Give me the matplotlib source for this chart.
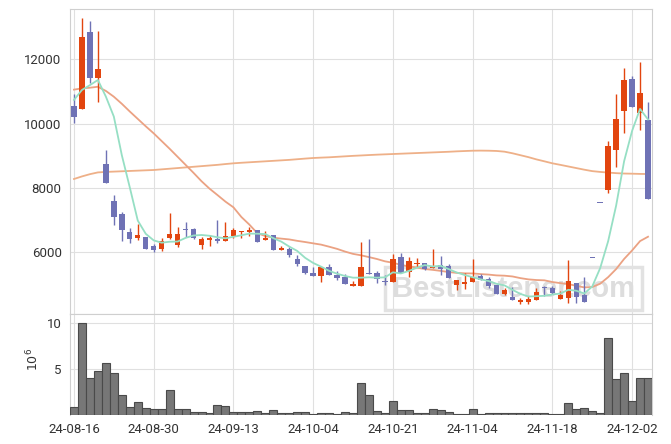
import matplotlib
matplotlib.use('Agg')
import matplotlib.pyplot as plt
import numpy as np

plt.rcParams['font.family'] = ['Roboto', 'DejaVu Sans']

# daily candles, 24-08-16 .. 24-12-04 (trading days)
opens = [10540, 10470, 12850, 11430, 8750, 7600, 7190, 6630, 6450, 6480,
         6200, 6110, 6450, 6230, 6700, 6720, 6240, 6390, 6400, 6360,
         6510, 6630, 6640, 6690, 6390, 6540, 6060, 6090, 5800, 5570,
         5360, 5270, 5540, 5300, 5230, 4940, 4940, 5370, 5360, 5120,
         5090, 5850, 5400, 5630, 5660, 5520, 5600, 5570, 4980, 5020,
         5060, 5260, 5160, 4970, 4710, 4610, 4450, 4450, 4530, 4900,
         4880, 4540, 4590, 5040, 4660, 5810, 7530, 7950, 9190, 10400,
         11390, 10340, 10120]
highs = [10910, 13280, 13200, 12880, 9170, 7780, 7250, 6770, 6890, 6480,
         6270, 6450, 7210, 6780, 6930, 6760, 6480, 6550, 7000, 6930,
         6760, 6670, 6780, 6700, 6660, 6540, 6200, 6160, 5910, 5580,
         5550, 5545, 5630, 5410, 5330, 5110, 6310, 6410, 5410, 5280,
         5940, 5970, 5850, 5810, 5670, 6090, 5890, 5650, 5140, 5350,
         5780, 5320, 5220, 5010, 4900, 4920, 4590, 4640, 4880, 4940,
         4940, 4810, 5750, 5050, 5220, 5810, 7530, 9470, 10910, 11720,
         11480, 11910, 10670]
lows = [10010, 10450, 11280, 10670, 8150, 6840, 6360, 6300, 6380, 6110,
        6000, 6030, 6410, 6170, 6490, 6410, 6110, 6200, 6280, 6360,
        6430, 6430, 6520, 6330, 6390, 6060, 6060, 5850, 5560, 5320,
        5270, 5090, 5280, 5130, 5010, 4940, 4940, 5320, 5040, 4980,
        5090, 5360, 5240, 5530, 5450, 5520, 5280, 5210, 4830, 4870,
        5060, 5140, 4890, 4710, 4660, 4530, 4380, 4390, 4500, 4630,
        4700, 4540, 4410, 4420, 4460, 5810, 7530, 7840, 8640, 9700,
        10530, 9790, 7670]
closes = [10220, 12700, 11430, 11700, 8170, 7110, 6700, 6420, 6540, 6110,
          6080, 6340, 6570, 6570, 6680, 6450, 6420, 6450, 6340, 6510,
          6690, 6660, 6700, 6330, 6450, 6060, 6120, 5930, 5650, 5370,
          5270, 5540, 5280, 5210, 5010, 5010, 5540, 5330, 5160, 5060,
          5790, 5370, 5720, 5660, 5470, 5570, 5470, 5210, 5140, 5080,
          5220, 5140, 4950, 4710, 4830, 4530, 4500, 4550, 4760, 4880,
          4720, 4660, 5120, 4620, 4460, 5810, 7530, 9310, 10150, 11360,
          10530, 10950, 7670]
# volume in millions
volume = [0.85, 10.0, 4.05, 4.8, 5.7, 4.56, 2.15, 0.85, 1.4, 0.74,
          0.63, 0.63, 2.7, 0.63, 0.63, 0.3, 0.3, 0.2, 1.07, 0.96,
          0.3, 0.3, 0.3, 0.42, 0.2, 0.52, 0.2, 0.2, 0.3, 0.3,
          0.08, 0.2, 0.2, 0.08, 0.3, 0.2, 3.48, 2.17, 0.42, 0.2,
          1.52, 0.52, 0.52, 0.2, 0.2, 0.63, 0.52, 0.3, 0.08, 0.08,
          0.63, 0.08, 0.2, 0.2, 0.2, 0.2, 0.2, 0.2, 0.2, 0.2,
          0.08, 0.08, 1.3, 0.63, 0.74, 0.42, 0.2, 8.4, 3.9, 4.55,
          1.5, 4.0, 4.0]
# moving averages as drawn on the chart
ma5 = [10740, 11050, 11200, 11360, 10844, 10222, 9022, 8020, 6988, 6576,
       6370, 6298, 6328, 6334, 6448, 6522, 6538, 6514, 6468, 6434,
       6482, 6530, 6580, 6578, 6566, 6440, 6332, 6178, 6042, 5826,
       5668, 5552, 5422, 5334, 5262, 5210, 5210, 5222, 5210, 5220,
       5376, 5342, 5420, 5520, 5602, 5558, 5578, 5476, 5372, 5294,
       5224, 5158, 5106, 5020, 4970, 4832, 4704, 4624, 4634, 4646,
       4686, 4718, 4832, 4804, 4718, 4934, 5508, 6346, 7452, 8832,
       9776, 10460, 10132]
ma20 = [11060, 11100, 11120, 11150, 11020, 10840, 10620, 10380, 10150, 9920,
        9700, 9460, 9220, 8970, 8720, 8470, 8210, 7980, 7780, 7576,
        7399, 7097, 6861, 6592, 6506, 6454, 6425, 6400, 6356, 6319,
        6278, 6238, 6174, 6106, 6022, 5950, 5906, 5850, 5791, 5719,
        5674, 5609, 5560, 5527, 5478, 5453, 5421, 5385, 5359, 5345,
        5342, 5322, 5306, 5281, 5272, 5248, 5196, 5157, 5137, 5128,
        5075, 5040, 5010, 4958, 4907, 4919, 5022, 5227, 5478, 5792,
        6057, 6348, 6484]
ma_long = [8280, 8360, 8430, 8485, 8500, 8510, 8520, 8530, 8540, 8550,
           8560, 8580, 8600, 8620, 8640, 8660, 8680, 8700, 8720, 8745,
           8768, 8785, 8800, 8815, 8830, 8845, 8860, 8875, 8895, 8915,
           8933, 8945, 8955, 8970, 8985, 9000, 9012, 9025, 9037, 9047,
           9057, 9067, 9077, 9087, 9097, 9107, 9117, 9127, 9140, 9150,
           9160, 9163, 9160, 9152, 9130, 9080, 9020, 8960, 8890, 8830,
           8768, 8720, 8670, 8620, 8570, 8525, 8500, 8480, 8462, 8450,
           8445, 8438, 8435]
tick_labels = ['24-08-16', '24-08-30', '24-09-13', '24-10-04',
               '24-10-21', '24-11-04', '24-11-18', '24-12-02']

RED = '#e2450f'
BLUE = '#6f72b5'
GRID = '#e0e0e0'
SPINE = '#cfcfcf'

o = np.array(opens)
h = np.array(highs)
l = np.array(lows)
c = np.array(closes)
x = np.arange(len(o))
colors = np.where(c > o, RED, BLUE)

fig = plt.figure(figsize=(6.71, 4.44), dpi=100)
ax = fig.add_axes([0.1043, 0.2928, 0.8674, 0.6863])
axv = fig.add_axes([0.1043, 0.0653, 0.8674, 0.2275], sharex=ax)

# watermark
ax.text(0.762, 0.083, 'BestListener.com', transform=ax.transAxes,
        family=['Liberation Sans', 'DejaVu Sans'], fontweight='bold', fontsize=21,
        color='#dddddd', ha='center', va='center', zorder=1,
        bbox=dict(boxstyle='square,pad=0.25', fc='none', ec='#e2e2e2', lw=2.5))

# candles
ax.vlines(x, l, h, colors=colors, lw=1, zorder=3)
ax.bar(x, np.maximum(np.abs(c - o), 30), bottom=np.minimum(o, c), width=0.68,
       color=colors, zorder=4)

ax.plot(x, ma_long, color='#eeb088', lw=1.3, zorder=2)
ax.plot(x, ma20, color='#eba283', lw=1.3, zorder=2)
ax.plot(x, ma5, color='#96dfc4', lw=1.3, zorder=5)

ax.set_xlim(-0.5, 72.5)
ax.set_ylim(4080, 13560)
ax.set_yticks([6000, 8000, 10000, 12000])

# volume
axv.bar(x, volume, width=1.0, color='#777777', edgecolor='#4a4a4a', lw=0.8, zorder=3)
axv.set_ylim(0, 10.98)
axv.set_yticks([5, 10])
axv.set_xticks(range(0, 71, 10))
axv.set_xticklabels(tick_labels)
fig.text(0.049, 0.19, r'$10^6$', rotation=90, ha='center', va='center',
         fontsize=9, color='#333333')

for a in (ax, axv):
    a.grid(True, color=GRID, lw=0.8, zorder=0)
    a.set_axisbelow(True)
    a.tick_params(length=0, labelsize=9.5, labelcolor='#333333', pad=6)
    for s in a.spines.values():
        s.set_color(SPINE)
        s.set_linewidth(0.8)
axv.spines['bottom'].set_visible(False)
ax.tick_params(labelbottom=False)

fig.savefig('out.png', dpi=100)
